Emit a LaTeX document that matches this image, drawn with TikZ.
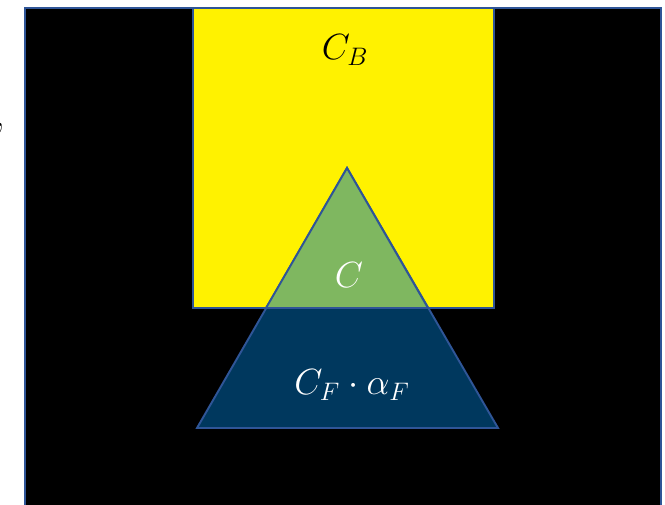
\documentclass[tikz,border=0pt]{standalone}
\usepackage{amsmath,amssymb}
\usepackage{xcolor}

\definecolor{edgeblue}{RGB}{47,85,151}
\definecolor{leafgreen}{RGB}{127,183,96}
\definecolor{deepnavy}{RGB}{0,56,94}

\tikzset{
    part/.style={draw=edgeblue, line width=1.1pt, line join=miter},
    lbl/.style={font=\fontsize{22}{26}\selectfont, inner sep=0pt}
}

\begin{document}
\begin{tikzpicture}[x=0.02cm, y=-0.02cm]

    % page size
    \useasboundingbox (0,0) rectangle (665,504);
    \clip (0,0) rectangle (665,504);

    % stray comma at the left edge
    \node[lbl, anchor=base east] (comma) at (6,126) {,};

    % black background
    \fill[black] (25,8) rectangle (661,520);
    \draw[part] (25,520) -- (25,8) -- (661,8) -- (661,520);

    % yellow square
    \draw[part, fill=yellow] (193,8) rectangle (494,308);
    \node[lbl] (cb) at (345,50) {\(C_B\)};

    % triangle, lower part
    \draw[part, fill=deepnavy] (347,168) -- (498,428) -- (197,428) -- cycle;
    % triangle, upper part
    \draw[part, fill=leafgreen] (347,168) -- (428,308) -- (266,308) -- cycle;

    \node[lbl, text=white] (c) at (349,275) {\(C\)};
    \node[lbl, text=white] (cf) at (352,385) {\(C_F \cdot \alpha_F\)};

\end{tikzpicture}
\end{document}
